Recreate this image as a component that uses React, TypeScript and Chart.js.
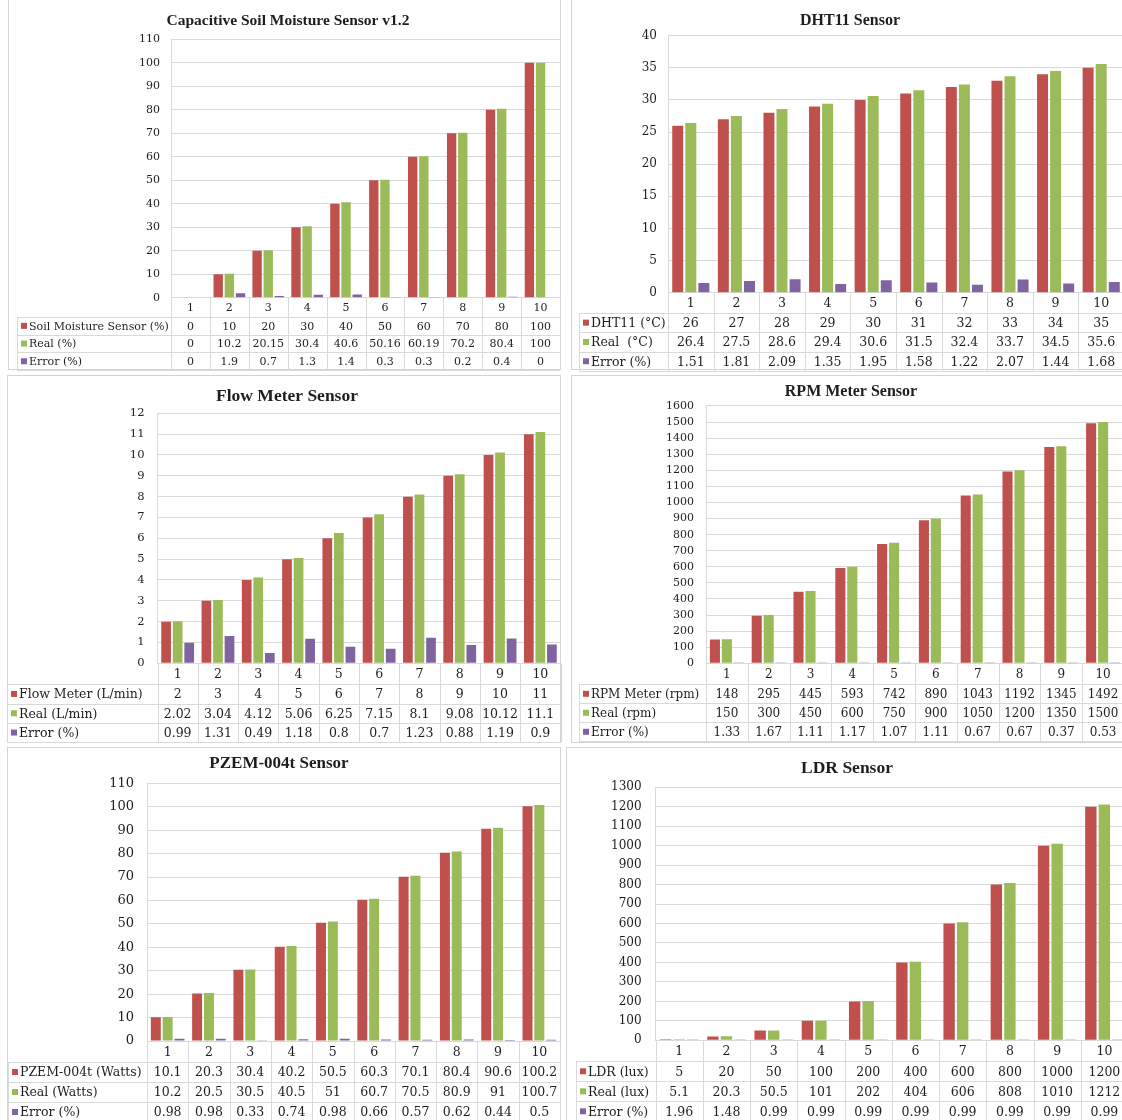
import React, { useEffect, useRef } from "react";
import { Chart, registerables } from "chart.js";

Chart.register(...registerables);

// ---------- DATA ----------
const categories = ["1", "2", "3", "4", "5", "6", "7", "8", "9", "10"];

const soilSensor = [0, 10, 20, 30, 40, 50, 60, 70, 80, 100];
const soilReal = [0, 10.2, 20.15, 30.4, 40.6, 50.16, 60.19, 70.2, 80.4, 100];
const soilError = [0, 1.9, 0.7, 1.3, 1.4, 0.3, 0.3, 0.2, 0.4, 0];

const dhtSensor = [26, 27, 28, 29, 30, 31, 32, 33, 34, 35];
const dhtReal = [26.4, 27.5, 28.6, 29.4, 30.6, 31.5, 32.4, 33.7, 34.5, 35.6];
const dhtError = [1.51, 1.81, 2.09, 1.35, 1.95, 1.58, 1.22, 2.07, 1.44, 1.68];

const flowSensor = [2, 3, 4, 5, 6, 7, 8, 9, 10, 11];
const flowReal = [2.02, 3.04, 4.12, 5.06, 6.25, 7.15, 8.1, 9.08, 10.12, 11.1];
const flowError = [0.99, 1.31, 0.49, 1.18, 0.8, 0.7, 1.23, 0.88, 1.19, 0.9];

const rpmSensor = [148, 295, 445, 593, 742, 890, 1043, 1192, 1345, 1492];
const rpmReal = [150, 300, 450, 600, 750, 900, 1050, 1200, 1350, 1500];
const rpmError = [1.33, 1.67, 1.11, 1.17, 1.07, 1.11, 0.67, 0.67, 0.37, 0.53];

const pzemSensor = [10.1, 20.3, 30.4, 40.2, 50.5, 60.3, 70.1, 80.4, 90.6, 100.2];
const pzemReal = [10.2, 20.5, 30.5, 40.5, 51, 60.7, 70.5, 80.9, 91, 100.7];
const pzemError = [0.98, 0.98, 0.33, 0.74, 0.98, 0.66, 0.57, 0.62, 0.44, 0.5];

const ldrSensor = [5, 20, 50, 100, 200, 400, 600, 800, 1000, 1200];
const ldrReal = [5.1, 20.3, 50.5, 101, 202, 404, 606, 808, 1010, 1212];
const ldrError = [1.96, 1.48, 0.99, 0.99, 0.99, 0.99, 0.99, 0.99, 0.99, 0.99];

const RED = "#C0504D";
const GREEN = "#9BBB59";
const PURPLE = "#8064A2";
const GRID = "#d9d9d9";
const TEXT = "#1e1e1e";
const SERIF = "'Liberation Serif', serif";
const SMALL = "'DejaVu Serif', serif";

// ---------- LAYOUT (page pixels) ----------
type Panel = {
  title: string;
  labels: [string, string, string];
  series: [number[], number[], number[]];
  yMax: number;
  yStep: number;
  border: { l: number; t: number; r: number; b: number };
  titleX: number;
  titleY: number;
  titleSize: number;
  plotL: number;
  plotR: number;
  plotT: number;
  plotB: number;
  tableL: number;
  headerH: number;
  rowH: number;
  tickSize: number;
  tickPad: number;
  tableSize: number;
};

const panels: Panel[] = [
  {
    title: "Capacitive Soil Moisture Sensor v1.2",
    labels: ["Soil Moisture Sensor (%)", "Real (%)", "Error (%)"],
    series: [soilSensor, soilReal, soilError],
    yMax: 110, yStep: 10,
    border: { l: 8, t: -1, r: 561, b: 370 },
    titleX: 288, titleY: 21, titleSize: 15.5,
    plotL: 171, plotR: 560, plotT: 39.3, plotB: 297.7,
    tableL: 17, headerH: 19.3, rowH: 17.7,
    tickSize: 11, tickPad: 11, tableSize: 11,
  },
  {
    title: "DHT11 Sensor",
    labels: ["DHT11 (°C)", "Real  (°C)", "Error (%)"],
    series: [dhtSensor, dhtReal, dhtError],
    yMax: 40, yStep: 5,
    border: { l: 571, t: -1, r: 1140, b: 370 },
    titleX: 850, titleY: 21, titleSize: 16,
    plotL: 668, plotR: 1124, plotT: 35.7, plotB: 292.7,
    tableL: 579, headerH: 20.3, rowH: 19.3,
    tickSize: 12, tickPad: 11, tableSize: 12.5,
  },
  {
    title: "Flow Meter Sensor",
    labels: ["Flow Meter (L/min)", "Real (L/min)", "Error (%)"],
    series: [flowSensor, flowReal, flowError],
    yMax: 12, yStep: 1,
    border: { l: 7, t: 375, r: 561, b: 743 },
    titleX: 287, titleY: 396, titleSize: 17.5,
    plotL: 157.5, plotR: 560.5, plotT: 413.3, plotB: 663.3,
    tableL: 7, headerH: 21, rowH: 19.3,
    tickSize: 11.5, tickPad: 13, tableSize: 12.5,
  },
  {
    title: "RPM Meter Sensor",
    labels: ["RPM Meter (rpm)", "Real (rpm)", "Error (%)"],
    series: [rpmSensor, rpmReal, rpmError],
    yMax: 1600, yStep: 100,
    border: { l: 571, t: 375, r: 1140, b: 743 },
    titleX: 851, titleY: 392, titleSize: 16,
    plotL: 706, plotR: 1124, plotT: 406, plotB: 663.3,
    tableL: 579, headerH: 21, rowH: 19,
    tickSize: 11, tickPad: 12, tableSize: 12,
  },
  {
    title: "PZEM-004t Sensor",
    labels: ["PZEM-004t (Watts)", "Real (Watts)", "Error (%)"],
    series: [pzemSensor, pzemReal, pzemError],
    yMax: 110, yStep: 10,
    border: { l: 7, t: 747, r: 561, b: 1140 },
    titleX: 279, titleY: 764, titleSize: 17,
    plotL: 147, plotR: 560, plotT: 783.3, plotB: 1041,
    tableL: 8, headerH: 21, rowH: 20,
    tickSize: 13, tickPad: 13, tableSize: 12.5,
  },
  {
    title: "LDR Sensor",
    labels: ["LDR (lux)", "Real (lux)", "Error (%)"],
    series: [ldrSensor, ldrReal, ldrError],
    yMax: 1300, yStep: 100,
    border: { l: 566, t: 747, r: 1140, b: 1140 },
    titleX: 847, titleY: 768, titleSize: 17.5,
    plotL: 655.6, plotR: 1128, plotT: 787.3, plotB: 1040.3,
    tableL: 576, headerH: 21, rowH: 20,
    tickSize: 12, tickPad: 14, tableSize: 12.5,
  },
];

const COLORS = [RED, GREEN, PURPLE];

// ---------- data table plugin ----------
const dataTablePlugin = {
  id: "dataTable",
  afterDraw(chart: any, _args: any, opts: any) {
    const { ctx, chartArea } = chart;
    const xs = chart.scales.x;
    const labels: string[] = chart.data.labels;
    const datasets = chart.data.datasets;
    const n = labels.length;
    const L = chartArea.left;
    const R = chartArea.right;
    const y0 = chartArea.bottom;
    const cw = (R - L) / n;
    const hb = y0 + opts.headerH;
    const bottom = hb + datasets.length * opts.rowH;
    ctx.save();
    ctx.strokeStyle = GRID;
    ctx.lineWidth = 1;
    ctx.beginPath();
    for (let i = 0; i <= n; i++) {
      const x = Math.round(L + i * cw) + 0.5;
      ctx.moveTo(x, y0);
      ctx.lineTo(x, bottom);
    }
    const xl = Math.round(opts.tableL) + 0.5;
    ctx.moveTo(xl, Math.round(hb) + 0.5);
    ctx.lineTo(xl, bottom);
    for (let r = 0; r <= datasets.length; r++) {
      const y = Math.round(hb + r * opts.rowH) + 0.5;
      ctx.moveTo(opts.tableL, y);
      ctx.lineTo(R, y);
    }
    ctx.stroke();

    ctx.font = `${opts.fontSize}px ${SMALL}`;
    ctx.textBaseline = "middle";
    ctx.fillStyle = TEXT;
    ctx.textAlign = "center";
    labels.forEach((c, i) => ctx.fillText(c, xs.getPixelForValue(i), y0 + opts.headerH / 2 + 1));
    datasets.forEach((ds: any, r: number) => {
      const cy = hb + r * opts.rowH + opts.rowH / 2 + 1;
      ctx.textAlign = "center";
      ctx.fillStyle = TEXT;
      ds.data.forEach((v: number, i: number) => ctx.fillText(String(v), xs.getPixelForValue(i), cy));
      ctx.fillStyle = ds.backgroundColor;
      ctx.fillRect(opts.tableL + 4, cy - 4, 6, 6);
      ctx.fillStyle = TEXT;
      ctx.textAlign = "left";
      ctx.fillText(ds.label, opts.tableL + 12, cy);
    });
    ctx.restore();
  },
};

function ChartPanel({ p }: { p: Panel }) {
  const ref = useRef<HTMLCanvasElement>(null);

  const cx = Math.min(p.tableL - 1, 2 * p.titleX - p.plotR);
  const padL = 2 * p.titleX - cx - p.plotR;
  const cy = p.border.t;
  const right = Math.max(p.plotR + 4, p.border.r + 1);
  const W = Math.ceil(right - cx);
  const tableBottom = p.plotB + p.headerH + 3 * p.rowH;
  const H = Math.ceil(Math.max(tableBottom + 3, p.border.b) - cy);

  useEffect(() => {
    if (!ref.current) return;
    const lh = p.titleSize * 1.2;
    const chart = new Chart(ref.current, {
      type: "bar",
      data: {
        labels: categories,
        datasets: p.series.map((s, i) => ({
          label: p.labels[i],
          data: s,
          backgroundColor: COLORS[i],
          borderWidth: 0,
          categoryPercentage: 0.86,
          barPercentage: 0.84,
        })),
      },
      plugins: [dataTablePlugin],
      options: {
        responsive: false,
        animation: false,
        devicePixelRatio: 1,
        layout: {
          padding: {
            left: padL,
            right: W - (p.plotR - cx),
            top: 0,
            bottom: H - (p.plotB - cy),
          },
        },
        plugins: {
          legend: { display: false },
          tooltip: { enabled: false },
          title: {
            display: true,
            text: p.title,
            color: TEXT,
            font: { family: SERIF, size: p.titleSize, weight: "bold", lineHeight: 1.2 },
            padding: {
              top: p.titleY - cy - lh / 2,
              bottom: p.plotT - (p.titleY + lh / 2),
            },
          },
          dataTable: {
            tableL: p.tableL - cx,
            headerH: p.headerH,
            rowH: p.rowH,
            fontSize: p.tableSize,
          },
        } as any,
        scales: {
          x: { display: false },
          y: {
            min: 0,
            max: p.yMax,
            ticks: {
              stepSize: p.yStep,
              autoSkip: false,
              color: TEXT,
              padding: p.tickPad,
              font: { family: SMALL, size: p.tickSize },
              callback: (v: any) => String(v),
            },
            grid: { color: GRID, drawTicks: false },
            border: { display: true, color: GRID },
            afterFit: (scale: any) => {
              scale.width = p.plotL - cx - padL;
            },
          } as any,
        },
      },
    });
    return () => chart.destroy();
  }, []);

  return (
    <>
      <div
        style={{
          position: "absolute",
          left: p.border.l,
          top: p.border.t,
          width: p.border.r - p.border.l,
          height: p.border.b - p.border.t,
          border: "1px solid #d4d4d4",
          boxSizing: "border-box",
        }}
      />
      <canvas
        ref={ref}
        width={W}
        height={H}
        style={{ position: "absolute", left: cx, top: cy, width: W, height: H }}
      />
    </>
  );
}

export default function App() {
  return (
    <div
      style={{
        position: "absolute",
        left: 0,
        top: 0,
        width: 1122,
        height: 1120,
        overflow: "hidden",
        background: "#fff",
      }}
    >
      {panels.map((p, i) => (
        <ChartPanel key={i} p={p} />
      ))}
    </div>
  );
}
